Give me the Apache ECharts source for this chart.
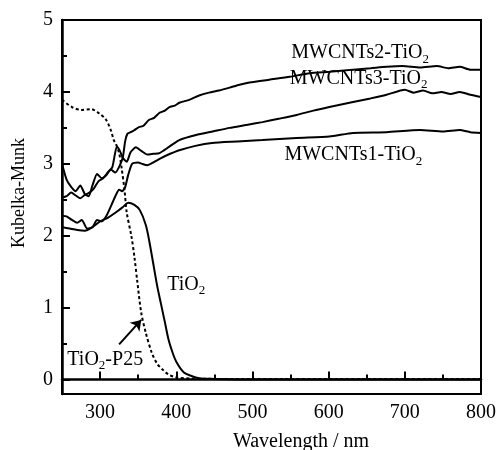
<!DOCTYPE html>
<html>
<head>
<meta charset="utf-8">
<script src="https://cdn.jsdelivr.net/npm/echarts@6/dist/echarts.min.js"></script>
<style>
html, body { margin: 0; padding: 0; background: #fff; }
#chart { width: 498px; height: 450px; }
</style>
</head>
<body>
<div id="chart"></div>
<script>
// wavelength (nm) / Kubelka-Munk values
var mw2Wl = [250, 256, 262, 268, 274, 280, 285, 290, 296, 302, 308, 314, 320, 326, 330, 333, 336, 340, 345, 351, 357, 364, 371, 378, 385, 391, 398, 404, 417, 430, 443, 456, 470, 483, 496, 522, 549, 575, 601, 632, 655, 676, 697, 720, 742, 757, 772, 786, 800];
var mw2Km = [3.0, 2.78, 2.68, 2.62, 2.7, 2.58, 2.55, 2.7, 2.86, 2.8, 2.84, 2.92, 2.88, 2.98, 3.1, 3.32, 3.42, 3.44, 3.47, 3.51, 3.53, 3.61, 3.64, 3.71, 3.74, 3.79, 3.81, 3.85, 3.89, 3.95, 3.99, 4.02, 4.06, 4.1, 4.13, 4.17, 4.21, 4.26, 4.28, 4.31, 4.33, 4.35, 4.36, 4.34, 4.36, 4.33, 4.35, 4.31, 4.31];

var mw3Wl = [250, 256, 262, 268, 274, 280, 286, 292, 298, 304, 310, 316, 322, 326, 330, 335, 340, 347, 354, 362, 370, 378, 391, 404, 426, 448, 470, 492, 513, 536, 558, 580, 601, 632, 655, 676, 700, 712, 724, 736, 748, 760, 772, 786, 800];
var mw3Km = [2.53, 2.55, 2.6, 2.56, 2.52, 2.57, 2.6, 2.66, 2.76, 2.8, 2.88, 2.95, 3.24, 3.18, 3.08, 3.03, 3.16, 3.23, 3.18, 3.13, 3.14, 3.15, 3.24, 3.33, 3.4, 3.45, 3.5, 3.54, 3.58, 3.63, 3.68, 3.74, 3.79, 3.86, 3.91, 3.96, 4.03, 3.99, 4.02, 3.98, 4.0, 3.97, 4.0, 3.96, 3.93];

var mw1Wl = [250, 256, 263, 270, 276, 283, 290, 296, 302, 308, 315, 320, 325, 329, 333, 337, 342, 350, 355, 362, 370, 380, 392, 404, 425, 447, 480, 513, 558, 601, 632, 676, 720, 750, 772, 786, 800];
var mw1Km = [2.28, 2.27, 2.22, 2.18, 2.22, 2.1, 2.12, 2.22, 2.2, 2.27, 2.43, 2.55, 2.64, 2.62, 2.68, 2.85, 3.0, 3.02, 3.0, 2.98, 3.02, 3.08, 3.14, 3.19, 3.25, 3.29, 3.31, 3.33, 3.36, 3.38, 3.43, 3.44, 3.47, 3.45, 3.47, 3.44, 3.43];

var tio2Wl = [250, 260, 270, 280, 290, 300, 310, 320, 330, 337, 345, 352, 360, 365, 370, 375, 380, 385, 390, 395, 400, 410, 420, 430, 450, 500, 600, 700, 800];
var tio2Km = [2.12, 2.1, 2.08, 2.07, 2.12, 2.2, 2.25, 2.32, 2.4, 2.46, 2.43, 2.36, 2.15, 1.9, 1.6, 1.3, 1.05, 0.8, 0.55, 0.38, 0.25, 0.1, 0.05, 0.02, 0.01, 0.0, 0.0, 0.0, 0.0];

var p25Wl = [250, 263, 275, 288, 299, 308, 314, 318, 321, 325, 328, 332, 335, 341, 345, 349, 354, 360, 368, 375, 382, 390, 400, 420, 450, 600, 800];
var p25Km = [3.89, 3.79, 3.75, 3.76, 3.7, 3.61, 3.47, 3.33, 3.27, 3.15, 2.96, 2.64, 2.32, 2.0, 1.71, 1.35, 0.93, 0.65, 0.37, 0.22, 0.14, 0.07, 0.03, 0.015, 0.01, 0.01, 0.01];

var xLabels = [300, 400, 500, 600, 700, 800];
var xTicks = [300, 400, 500, 600, 700, 800];
var xMinorTicks = [250, 350, 450, 550, 650, 750];
var yLabels = [0, 1, 2, 3, 4, 5];
var yMinorTicks = [0.5, 1.5, 2.5, 3.5, 4.5];

function pairs(xs, ys) {
    var out = [];
    for (var i = 0; i < xs.length; i++) out.push([xs[i], ys[i]]);
    return out;
}

var FONT = '"Liberation Serif", "DejaVu Serif", serif';
var rich = {
    t: { fontFamily: FONT, fontSize: 20, color: '#000', lineHeight: 25 },
    s: { fontFamily: FONT, fontSize: 13, color: '#000', padding: [12, 0, 0, 0] }
};

function tag(x, y, text) {
    return {
        coord: [x, y],
        symbol: 'circle',
        symbolSize: 0,
        label: { show: true, position: 'right', distance: 0, formatter: text, rich: rich }
    };
}

var chart = echarts.init(document.getElementById('chart'));

var option = {
    animation: false,
    backgroundColor: '#fff',
    grid: {
        left: 62, right: 17, top: 20, bottom: 56,
        outerBoundsMode: 'none',
        containLabel: false,
        show: true, borderColor: '#000', borderWidth: 2, backgroundColor: 'transparent'
    },
    xAxis: [{
        type: 'value', min: 250, max: 800,
        name: 'Wavelength / nm', nameLocation: 'middle', nameGap: 38,
        nameTextStyle: { fontFamily: FONT, fontSize: 20, color: '#000', padding: [0, 0, 0, 59] },
        axisLine: { show: true, lineStyle: { color: '#000', width: 2.5 } },
        axisTick: { show: true, inside: true, length: 8, lineStyle: { color: '#000', width: 2 }, customValues: xTicks },
        axisLabel: { fontFamily: FONT, fontSize: 20, color: '#000', margin: 9, customValues: xLabels },
        splitLine: { show: false }
    }, {
        type: 'value', min: 250, max: 800, position: 'bottom',
        axisLine: { show: false },
        axisTick: { show: true, inside: true, length: 5, lineStyle: { color: '#000', width: 2 }, customValues: xMinorTicks },
        axisLabel: { show: false },
        splitLine: { show: false }
    }],
    yAxis: [{
        type: 'value', min: -0.2, max: 5,
        name: 'Kubelka-Munk', nameLocation: 'middle', nameGap: 34,
        nameTextStyle: { fontFamily: FONT, fontSize: 18, color: '#000', padding: [0, 0, 0, 28] },
        axisLine: { show: true, lineStyle: { color: '#000', width: 2.5 } },
        axisTick: { show: true, inside: true, length: 8, lineStyle: { color: '#000', width: 2 }, customValues: yLabels },
        axisLabel: { fontFamily: FONT, fontSize: 20, color: '#000', margin: 9, customValues: yLabels },
        splitLine: { show: false }
    }, {
        type: 'value', min: -0.2, max: 5, position: 'left',
        axisLine: { show: false },
        axisTick: { show: true, inside: true, length: 5, lineStyle: { color: '#000', width: 2 }, customValues: yMinorTicks },
        axisLabel: { show: false },
        splitLine: { show: false }
    }],
    series: [
        {
            name: 'MWCNTs2-TiO2', type: 'line', data: pairs(mw2Wl, mw2Km),
            showSymbol: false, smooth: 0.2,
            lineStyle: { color: '#000', width: 2 },
            markPoint: { silent: true, data: [tag(551, 4.54, '{t|MWCNTs2-TiO}{s|2}')] }
        },
        {
            name: 'MWCNTs3-TiO2', type: 'line', data: pairs(mw3Wl, mw3Km),
            showSymbol: false, smooth: 0.2,
            lineStyle: { color: '#000', width: 2 },
            markPoint: { silent: true, data: [tag(549, 4.19, '{t|MWCNTs3-TiO}{s|2}')] }
        },
        {
            name: 'MWCNTs1-TiO2', type: 'line', data: pairs(mw1Wl, mw1Km),
            showSymbol: false, smooth: 0.2,
            lineStyle: { color: '#000', width: 2 },
            markPoint: { silent: true, data: [tag(542, 3.12, '{t|MWCNTs1-TiO}{s|2}')] }
        },
        {
            name: 'TiO2', type: 'line', data: pairs(tio2Wl, tio2Km),
            showSymbol: false, smooth: 0.3,
            lineStyle: { color: '#000', width: 2 },
            markPoint: { silent: true, data: [tag(388, 1.32, '{t|TiO}{s|2}')] }
        },
        {
            name: 'TiO2-P25', type: 'line', data: pairs(p25Wl, p25Km),
            showSymbol: false, smooth: 0.3,
            lineStyle: { color: '#000', width: 2, type: [3, 2.5] },
            markPoint: { silent: true, data: [tag(257, 0.28, '{t|TiO}{s|2}{t|-P25}')] },
            markLine: {
                silent: true,
                symbol: ['none', 'arrow'],
                symbolSize: 10,
                label: { show: false },
                lineStyle: { color: '#000', width: 2, type: 'solid' },
                data: [[{ coord: [325, 0.49] }, { coord: [354, 0.83] }]]
            }
        }
    ]
};

chart.setOption(option, true);
</script>
</body>
</html>
